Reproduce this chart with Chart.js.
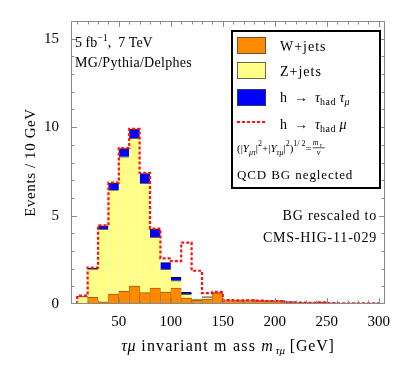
<!DOCTYPE html>
<html><head><meta charset="utf-8">
<script src="https://cdn.jsdelivr.net/npm/chart.js@4"></script>
<style>html,body{margin:0;padding:0;background:#fff}canvas{display:block}</style>
</head><body>
<canvas id="c" width="407" height="376"></canvas>
<script>
// ---- data (GeV bins, events / 10 GeV) ----
const binLow = [10,20,30,40,50,60,70,80,90,100,110,120,130,140,150,160,170,180,190,200,210,220,230,240,250,260,270,280,290];
const binWidth = 10;
const wJets   = [0.00,0.38,0.12,0.56,0.72,1.02,0.64,0.90,0.68,0.90,0.34,0.21,0.28,0.62,0.20,0.19,0.20,0.18,0.17,0.16,0.10,0.08,0.07,0.10,0.05,0.03,0.02,0.02,0.01];
const zJets   = [0.42,1.59,4.10,5.88,7.60,8.34,6.18,2.87,1.28,0.42,0.21,0.04,0.10,0.02,0.01,0.01,0.01,0.01,0.01,0.01,0.01,0.00,0.00,0.00,0.00,0.00,0.00,0.00,0.00];
const hTauTauMu = [0.00,0.05,0.20,0.38,0.46,0.51,0.56,0.45,0.38,0.19,0.11,0.03,0.03,0.01,0.01,0.01,0.01,0.01,0.01,0.01,0.01,0.01,0.00,0.00,0.00,0.00,0.00,0.00,0.00];
const hTauMuTotal = [0.47,2.06,4.45,6.86,8.82,9.90,7.42,4.26,2.58,2.42,3.47,1.88,0.62,0.68,0.22,0.20,0.21,0.19,0.17,0.16,0.10,0.08,0.06,0.09,0.05,0.04,0.04,0.04,0.04];
const xTickLabels = [50,100,150,200,250,300];
const yTickLabels = [0,5,10,15];
const xMinorStep = 10, yMinorStep = 1;
const labels = ['W+jets','Z+jets','h → τhad τμ','h → τhad μ'];

const FONT = '"Liberation Serif", "DejaVu Serif", serif';
const barData = arr => arr.map((v,i)=>({x: binLow[i]+binWidth/2, y: v}));
const lastEdge = binLow[binLow.length-1] + binWidth;
const redPts = [{x: binLow[0], y: 0}]
  .concat(hTauMuTotal.map((v,i)=>({x: binLow[i], y: v})))
  .concat([{x: lastEdge, y: hTauMuTotal[hTauMuTotal.length-1]}, {x: lastEdge, y: 0}]);

function richWidth(ctx, parts, base){
  let w = 0;
  for (const p of parts){ ctx.font = (p.i?'italic ':'') + (p.s||base) + 'px ' + FONT; ctx.letterSpacing = (p.ls!=null?p.ls:0)+'px'; w += ctx.measureText(p.t).width; }
  return w;
}
function drawRich(ctx, x, y, parts, base, align){
  let w = richWidth(ctx, parts, base);
  let cx = align==='right' ? x - w : align==='center' ? x - w/2 : x;
  ctx.textBaseline = 'alphabetic'; ctx.textAlign = 'left';
  for (const p of parts){
    ctx.font = (p.i?'italic ':'') + (p.s||base) + 'px ' + FONT;
    ctx.letterSpacing = (p.ls!=null?p.ls:0)+'px';
    ctx.fillText(p.t, cx, y + (p.dy||0));
    cx += ctx.measureText(p.t).width;
  }
  ctx.letterSpacing = '0px';
  return cx;
}

const decor = {
  id: 'decor',
  afterDatasetsDraw(chart){
    const {ctx, chartArea: a, scales: {x, y}} = chart;
    ctx.save();
    // frame + inner ticks
    ctx.strokeStyle = '#8a8a8a'; ctx.lineWidth = 1;
    ctx.strokeRect(Math.round(a.left)+0.5, Math.round(a.top)+0.5, Math.round(a.right-a.left)-1, Math.round(a.bottom-a.top)-1);
    ctx.beginPath();
    for (let v = xMinorStep; v <= x.max; v += xMinorStep){
      const len = xTickLabels.includes(v) ? 6 : 3.5;
      const px = Math.round(x.getPixelForValue(v)) + 0.5;
      ctx.moveTo(px, a.bottom); ctx.lineTo(px, a.bottom - len);
      ctx.moveTo(px, a.top); ctx.lineTo(px, a.top + len);
    }
    for (let v = yMinorStep; v < y.max; v += yMinorStep){
      const len = yTickLabels.includes(v) ? 6 : 3.5;
      const py = Math.round(y.getPixelForValue(v)) + 0.5;
      ctx.moveTo(a.left, py); ctx.lineTo(a.left + len, py);
      ctx.moveTo(a.right, py); ctx.lineTo(a.right - len, py);
    }
    ctx.stroke();

    ctx.fillStyle = '#000';
    // top-left annotations
    drawRich(ctx, 75, 47, [{t:'5 fb'},{t:'−1',s:10,dy:-6},{t:',  7 TeV'}], 14);
    drawRich(ctx, 75, 67, [{t:'MG/Pythia/Delphes', ls:0.3}], 14);
    // right annotations
    drawRich(ctx, 377, 220, [{t:'BG rescaled to', ls:0.8}], 14, 'right');
    drawRich(ctx, 377, 242, [{t:'CMS-HIG-11-029', ls:0.8}], 14, 'right');

    // legend box
    ctx.strokeStyle = '#000'; ctx.lineWidth = 2;
    ctx.fillStyle = '#fff';
    ctx.fillRect(232, 31, 148, 157);
    ctx.strokeRect(232, 31, 148, 157);
    const ds = chart.data.datasets;
    const sw = (i, top) => {
      ctx.fillStyle = ds[i].backgroundColor; ctx.fillRect(237, top, 29, 17);
      ctx.strokeStyle = '#444'; ctx.lineWidth = 0.8; ctx.strokeRect(237.5, top+0.5, 28, 16);
    };
    sw(0, 37); sw(1, 62); sw(2, 89);
    ctx.strokeStyle = ds[3].borderColor; ctx.lineWidth = 2; ctx.setLineDash([3,2]);
    ctx.beginPath(); ctx.moveTo(237, 122); ctx.lineTo(266, 122); ctx.stroke(); ctx.setLineDash([]);
    ctx.fillStyle = '#000';
    drawRich(ctx, 280, 51, [{t:'W+jets', ls:1}], 14);
    drawRich(ctx, 280, 76, [{t:'Z+jets', ls:1}], 14);
    drawRich(ctx, 280, 102, [{t:'h  →  '},{t:'τ',i:1},{t:'had',s:10,dy:3,ls:0.5},{t:' '},{t:'τ',i:1},{t:'μ',i:1,s:10,dy:3}], 14);
    drawRich(ctx, 280, 129, [{t:'h  →  '},{t:'τ',i:1},{t:'had',s:10,dy:3,ls:0.5},{t:' '},{t:'μ',i:1}], 14);
    // formula
    let cx = drawRich(ctx, 237, 152, [{t:'(|'},{t:'Y',i:1},{t:'μτ',i:1,s:8,dy:3},{t:'|'},{t:'2',s:8,dy:-6},{t:'+|'},{t:'Y',i:1},{t:'τμ',i:1,s:8,dy:3},{t:'|'},{t:'2',s:8,dy:-6},{t:')'},{t:'1/ 2',s:8,dy:-6},{t:'='}], 11);
    ctx.font = 'italic 8px ' + FONT;
    ctx.fillText('m', cx+1, 145); ctx.font = 'italic 6px ' + FONT; ctx.fillText('τ', cx+8, 147);
    ctx.fillRect(cx+1, 147.5, 12, 0.7);
    ctx.font = 'italic 8px ' + FONT; ctx.fillText('v', cx+5, 155);
    drawRich(ctx, 237, 179, [{t:'QCD BG neglected', ls:0.9}], 13);

    // axis titles
    drawRich(ctx, (a.left+a.right)/2, 351, [{t:'τμ',i:1,ls:0.5},{t:' invariant m ass ',ls:1.2},{t:'m',i:1},{t:' τμ',i:1,s:11,dy:3},{t:' [GeV]',ls:0.8}], 16, 'center');
    ctx.translate(35, (a.top+a.bottom)/2);
    ctx.rotate(-Math.PI/2);
    drawRich(ctx, 0, 0, [{t:'Events / 10 GeV', ls:0.6}], 15, 'center');
    ctx.restore();
  }
};

Chart.defaults.font.family = FONT;
Chart.defaults.color = '#000';
const barCommon = {type:'bar', stack:'bg', borderSkipped:false, barPercentage:1, categoryPercentage:1, order:1};
new Chart(document.getElementById('c'), {
  data: {
    datasets: [
      Object.assign({}, barCommon, {label: labels[0], data: barData(wJets), backgroundColor:'#ff8a00', borderColor:'#a85a00', borderWidth:{top:1,left:0.5,right:0.5,bottom:0}}),
      Object.assign({}, barCommon, {label: labels[1], data: barData(zJets), backgroundColor:'#ffff88', borderColor:'#6a6a50', borderWidth:{top:1,left:0,right:0,bottom:0}}),
      Object.assign({}, barCommon, {label: labels[2], data: barData(hTauTauMu), backgroundColor:'#0000ff', borderColor:'#000', borderWidth:{top:1,left:0,right:0,bottom:0}}),
      {type:'line', label: labels[3], data: redPts, yAxisID:'y2', borderColor:'#ff1010', borderWidth:2.2, borderDash:[3,2], stepped:true, pointRadius:0, fill:false, order:0}
    ]
  },
  options: {
    responsive:false, animation:false, devicePixelRatio:1,
    layout:{padding:{left:0, top:21, right:22, bottom:0}},
    plugins:{legend:{display:false}, tooltip:{enabled:false}},
    scales:{
      x:{type:'linear', offset:false, min:4, max:306, grid:{display:false, drawTicks:false, offset:false}, border:{display:false},
         afterBuildTicks: s => { s.ticks = xTickLabels.map(v=>({value:v})); },
         afterFit: s => { s.height = 72; },
         ticks:{padding:9, font:{size:15}, maxRotation:0, autoSkip:false}},
      y:{type:'linear', stacked:true, min:0, max:16, grid:{display:false, drawTicks:false}, border:{display:false},
         afterBuildTicks: s => { s.ticks = yTickLabels.map(v=>({value:v})); },
         afterFit: s => { s.width = 71; },
         ticks:{padding:12, font:{size:15}}},
      y2:{type:'linear', display:false, min:0, max:16, stacked:false}
    }
  },
  plugins:[decor]
});
</script>
</body></html>
